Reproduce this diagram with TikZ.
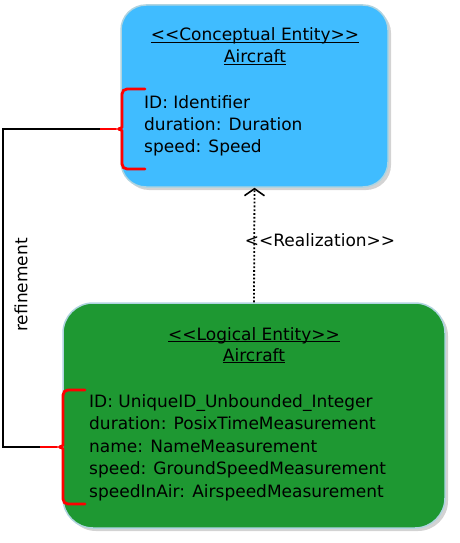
\documentclass[tikz,border=0pt]{standalone}
\usepackage{fontspec}
\setmainfont{DejaVu Sans}
\usetikzlibrary{arrows.meta,shadows}
\definecolor{conceptblue}{RGB}{64,188,255}
\definecolor{logicgreen}{RGB}{30,152,50}
\definecolor{boxrim}{RGB}{176,212,224}
\definecolor{bracered}{RGB}{255,0,0}
\newcommand\titleline[1]{\setbox0\hbox{#1}\rlap{\rule[-2.2pt]{\wd0}{1.1pt}}\box0}
\newcommand\stereo[1]{<\kern0pt<#1>\kern0pt>}

\begin{document}
\begin{tikzpicture}[x=1pt,y=-1pt,
  entity/.style={draw=boxrim, line width=1.5pt, rounded corners=#1, inner sep=0pt,
    drop shadow={opacity=0.35, shadow xshift=3pt, shadow yshift=-3pt}},
  lbl/.style={font=\fontsize{17}{22}\selectfont, inner sep=0pt},
  brace/.style={draw=bracered, line width=2.8pt, line cap=round},
  refline/.style={draw=black, line width=2.2pt}]
  \useasboundingbox (0,0) rectangle (459,543);
  % entities
  \node[entity=25pt, fill=conceptblue, minimum width=267pt, minimum height=182pt] (concept) at (254.5,96) {};
  \node[entity=30pt, fill=logicgreen, minimum width=382pt, minimum height=225pt] (logical) at (254,415.5) {};
  \node[lbl, anchor=base] (conceptst) at (255,41) {\titleline{\stereo{Conceptual Entity}}};
  \node[lbl, anchor=base] (conceptnm) at (255,63) {\titleline{Aircraft}};
  \node[lbl, anchor=base] (logicalst) at (254,340) {\titleline{\stereo{Logical Entity}}};
  \node[lbl, anchor=base] (logicalnm) at (254,361) {\titleline{Aircraft}};
  \foreach \y/\t in {108/ID: Identifier, 130/duration: Duration, 152/speed: Speed}
    \node[lbl, anchor=base west] at (144,\y) {\t};
  \foreach \y/\t in {407/ID: UniqueID\_Unbounded\_Integer, 429.5/duration: PosixTimeMeasurement,
                     452/name: NameMeasurement, 474.5/speed: GroundSpeedMeasurement, 497/speedInAir: AirspeedMeasurement}
    \node[lbl, anchor=base west] at (89,\y) {\t};
  % braces
  \foreach \x/\top/\bot/\tick in {122/89/169/145, 63/390/504/85} {
    \pgfmathsetmacro\mid{(\top+\bot)/2}
    \draw[brace, rounded corners=5pt] (\tick,\top) -- (\x,\top) -- (\x,\mid-7)
      .. controls (\x,\mid-1) .. (\x-6,\mid) .. controls (\x,\mid+1) .. (\x,\mid+7)
      -- (\x,\bot) -- (\tick,\bot);
  }
  \coordinate (ctip) at (116,129);
  \coordinate (ltip) at (57,447);
  \coordinate (refA) at (100,129);
  \coordinate (refB) at (40,447);
  \draw[brace] (ctip) -- (refA);
  \draw[brace] (ltip) -- (refB);
  \draw[refline] (refA) -- ++(-97,0) |- (refB);
  \node[lbl, rotate=90] (refinement) at (21,285) {refinement};
  % realization
  \draw[line width=1.8pt, dash pattern=on 1.8pt off 2pt, -{Straight Barb[length=7pt,width=20pt,line width=1.6pt]}] (logical.north) -- (concept.south);
  \node[lbl, anchor=base] (realization) at (320,246) {\stereo{Realization}};
\end{tikzpicture}
\end{document}
